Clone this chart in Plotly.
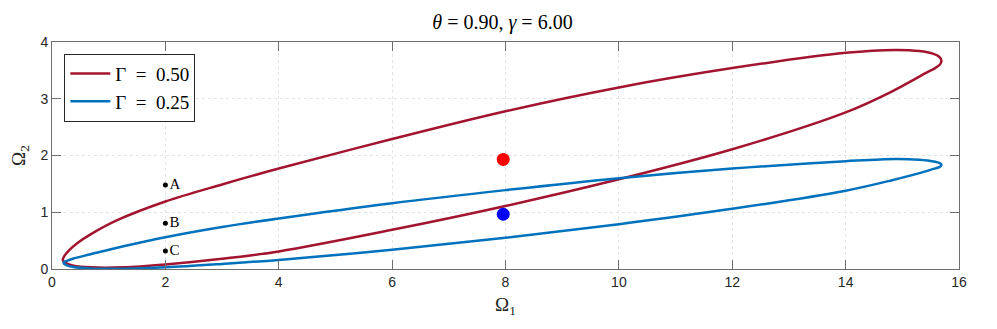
import plotly.graph_objects as go

RED = "#A2142F"
BLUE = "#0072BD"
SERIF = "Liberation Serif, DejaVu Serif, serif"
SANS = "Liberation Sans, Arial, sans-serif"

# outline of the Gamma = 0.50 region (lower branch -> tip -> upper -> tip -> lower)
red_x = [8.0, 6.0, 4.0, 3.0, 2.0, 1.26, 0.68, 0.38, 0.24, 0.19, 0.22, 0.3, 0.45, 0.68, 1.15, 2.0, 3.0, 4.0,
         6.0, 8.0, 10.0, 12.0, 14.0, 14.88, 15.3, 15.55, 15.65, 15.69, 15.67, 15.58, 15.41, 14.82, 14.0, 12.0, 10.0, 8.0]
red_y = [1.11, 0.69, 0.31, 0.18, 0.08, 0.03, 0.03, 0.06, 0.11, 0.16, 0.23, 0.33, 0.46, 0.61, 0.86, 1.19, 1.49, 1.77,
         2.29, 2.78, 3.2, 3.54, 3.81, 3.86, 3.84, 3.79, 3.74, 3.67, 3.61, 3.54, 3.45, 3.13, 2.76, 2.11, 1.58, 1.11]

# outline of the Gamma = 0.25 region
blue_x = [8.0, 6.0, 4.0, 3.0, 2.0, 1.26, 0.68, 0.38, 0.25, 0.2, 0.25, 0.38, 0.68, 1.26, 2.0, 3.0, 4.0,
          6.0, 8.0, 10.0, 12.0, 14.0, 14.88, 15.3, 15.55, 15.66, 15.69, 15.66, 15.55, 15.41, 14.82, 14.0, 12.0, 10.0, 8.0]
blue_y = [0.55, 0.34, 0.16, 0.09, 0.03, 0.005, 0.01, 0.035, 0.07, 0.11, 0.14, 0.185, 0.26, 0.40, 0.56, 0.74, 0.89,
          1.16, 1.39, 1.60, 1.77, 1.90, 1.94, 1.925, 1.895, 1.865, 1.835, 1.80, 1.765, 1.72, 1.565, 1.38, 1.06, 0.79, 0.55]

labels = ["A", "B", "C"]
label_x = [2, 2, 2]
label_y = [1.48, 0.806, 0.317]

center_red = (7.96, 1.93)
center_blue = (7.96, 0.965)

fig = go.Figure()
fig.add_trace(go.Scatter(x=red_x, y=red_y, mode="lines", name="Γ\u2002=\u20020.50",
                         line=dict(color=RED, width=2.5, shape="spline", smoothing=1.0)))
fig.add_trace(go.Scatter(x=blue_x, y=blue_y, mode="lines", name="Γ\u2002=\u20020.25",
                         line=dict(color=BLUE, width=2.5, shape="spline", smoothing=1.0)))
fig.add_trace(go.Scatter(x=[center_red[0]], y=[center_red[1]], mode="markers", showlegend=False,
                         marker=dict(color="#FF0000", size=13)))
fig.add_trace(go.Scatter(x=[center_blue[0]], y=[center_blue[1]], mode="markers", showlegend=False,
                         marker=dict(color="#0000FF", size=13)))
fig.add_trace(go.Scatter(x=label_x, y=label_y, mode="markers+text", text=labels,
                         textposition="middle right", showlegend=False,
                         textfont=dict(family=SERIF, size=15, color="black"),
                         marker=dict(color="black", size=5)))

axis_common = dict(showline=True, linecolor="#6e6e6e", linewidth=1, mirror="ticks",
                   ticks="inside", ticklen=9, tickcolor="#6e6e6e", automargin=False,
                   showgrid=True, gridcolor="#e4e4e4", griddash="dot", gridwidth=1,
                   zeroline=False, tickfont=dict(family=SANS, size=14, color="#262626"))

fig.update_xaxes(range=[0, 16], dtick=2, title=dict(text="Ω<sub>1</sub>", standoff=8,
                 font=dict(family=SERIF, size=19, color="#262626")), **axis_common)
fig.update_yaxes(range=[0, 4], dtick=1, title=dict(text="Ω<sub>2</sub>", standoff=10,
                 font=dict(family=SERIF, size=19, color="#262626")), **axis_common)

# thin frame edge seen at the right of the picture
fig.add_shape(type="line", xref="paper", yref="paper", x0=1.036, x1=1.036, y0=-0.3, y1=1.2,
              line=dict(color="#a0a0a0", width=1))

# page body has an 8px margin, so the figure is made 8px smaller
fig.update_layout(width=989, height=321,
                  margin=dict(l=44, r=38, t=34, b=60, autoexpand=False),
                  title=dict(text="<i>θ</i> = 0.90, <i>γ</i> = 6.00", x=0.5, xanchor="center",
                             y=0.956, yanchor="middle",
                             font=dict(family=SERIF, size=20, color="black")),
                  plot_bgcolor="white", paper_bgcolor="white",
                  legend=dict(x=0.0136, y=0.949, xanchor="left", yanchor="top",
                              bgcolor="white", bordercolor="#262626", borderwidth=1,
                              font=dict(family=SERIF, size=19, color="black"),
                              tracegroupgap=0, itemwidth=40))

fig.write_html("out.html")
